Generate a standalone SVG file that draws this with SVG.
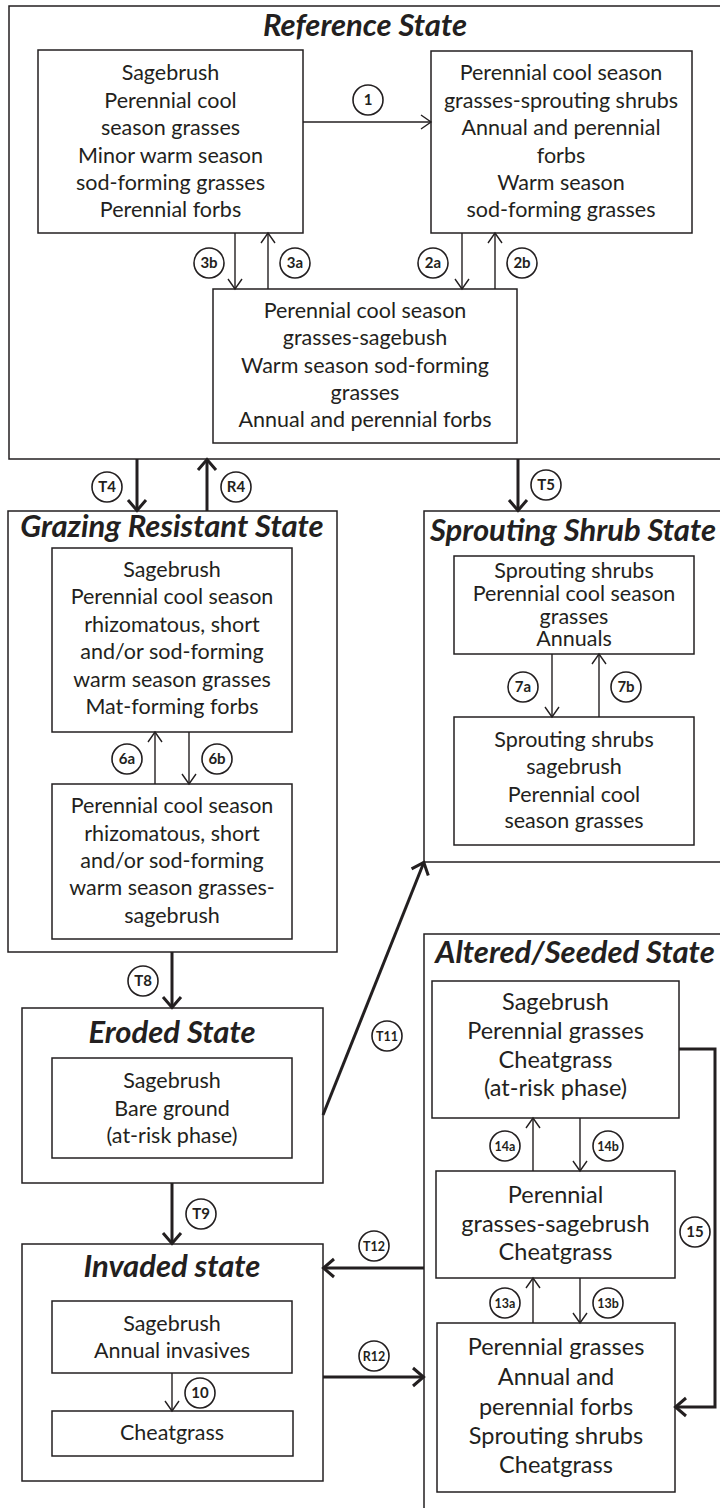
<svg xmlns="http://www.w3.org/2000/svg" width="720" height="1508" viewBox="0 0 720 1508">
<defs>
<style>
.bx{fill:none;stroke:#231f20;stroke-width:1.5}
.st{fill:#fff;stroke:#231f20;stroke-width:1.5}
.t{font-family:Lato,"Liberation Sans",sans-serif;font-size:21.5px;fill:#231f20;text-anchor:middle}
.ta{font-size:23.5px}
.ttl{font-family:Lato,"Liberation Sans",sans-serif;font-size:31px;font-weight:bold;font-style:italic;fill:#231f20;text-anchor:middle}
.thin{fill:none;stroke:#231f20;stroke-width:1.4;marker-end:url(#ah)}
.thick{fill:none;stroke:#231f20;stroke-width:3;marker-end:url(#ahb)}
.cc{fill:#fff;stroke:#231f20;stroke-width:1.6}
.cl{font-family:Lato,"Liberation Sans",sans-serif;font-size:15px;font-weight:bold;fill:#231f20;text-anchor:middle}
.cs{font-size:12.5px}
</style>
<marker id="ah" markerUnits="userSpaceOnUse" viewBox="-12 -9 14 18" refX="0" refY="0" markerWidth="14" markerHeight="18" orient="auto">
<path d="M-10,-7 L0,0 L-10,7" fill="none" stroke="#231f20" stroke-width="1.4"/>
</marker>
<marker id="ahb" markerUnits="userSpaceOnUse" viewBox="-14 -12 17 24" refX="0" refY="0" markerWidth="17" markerHeight="24" orient="auto">
<path d="M-11,-9 L-0.5,0 L-11,9" fill="none" stroke="#231f20" stroke-width="3"/>
</marker>
</defs>
<rect width="720" height="1508" fill="#fff"/>

<g id="reference-state">
<rect class="st" x="9" y="6" width="730" height="453"/>
<text class="ttl" x="365" y="36">Reference State</text>
</g>
<g id="ref-phase-1">
<rect class="bx" x="38" y="50" width="265" height="183"/>
<text class="t" x="170.5" y="80">Sagebrush</text>
<text class="t" x="170.5" y="108">Perennial cool</text>
<text class="t" x="170.5" y="135">season grasses</text>
<text class="t" x="170.5" y="163">Minor warm season</text>
<text class="t" x="170.5" y="190">sod-forming grasses</text>
<text class="t" x="170.5" y="217">Perennial forbs</text>
</g>
<g id="ref-phase-2">
<rect class="bx" x="431" y="51" width="261" height="182"/>
<text class="t" x="561" y="80">Perennial cool season</text>
<text class="t" x="561" y="108">grasses-sprouting shrubs</text>
<text class="t" x="561" y="135">Annual and perennial</text>
<text class="t" x="561" y="163">forbs</text>
<text class="t" x="561" y="190">Warm season</text>
<text class="t" x="561" y="217">sod-forming grasses</text>
</g>
<g id="ref-phase-3">
<rect class="bx" x="213" y="289" width="304" height="154"/>
<text class="t" x="365" y="318">Perennial cool season</text>
<text class="t" x="365" y="345">grasses-sagebush</text>
<text class="t" x="365" y="373">Warm season sod-forming</text>
<text class="t" x="365" y="400">grasses</text>
<text class="t" x="365" y="427">Annual and perennial forbs</text>
</g>

<g id="grazing-resistant-state">
<rect class="st" x="8" y="511" width="329" height="441"/>
<text class="ttl" x="172" y="537">Grazing Resistant State</text>
</g>
<g id="grazing-phase-1">
<rect class="bx" x="52" y="548" width="240" height="184"/>
<text class="t" x="172" y="577">Sagebrush</text>
<text class="t" x="172" y="604">Perennial cool season</text>
<text class="t" x="172" y="632">rhizomatous, short</text>
<text class="t" x="172" y="659">and/or sod-forming</text>
<text class="t" x="172" y="687">warm season grasses</text>
<text class="t" x="172" y="714">Mat-forming forbs</text>
</g>
<g id="grazing-phase-2">
<rect class="bx" x="52" y="784" width="240" height="155"/>
<text class="t" x="172" y="813">Perennial cool season</text>
<text class="t" x="172" y="841">rhizomatous, short</text>
<text class="t" x="172" y="868">and/or sod-forming</text>
<text class="t" x="172" y="895">warm season grasses-</text>
<text class="t" x="172" y="923">sagebrush</text>
</g>

<g id="sprouting-shrub-state">
<rect class="st" x="424" y="511" width="310" height="351"/>
<text class="ttl" x="573" y="541">Sprouting Shrub State</text>
</g>
<g id="sprouting-phase-1">
<rect class="bx" x="454" y="556" width="240" height="98"/>
<text class="t" x="574" y="578">Sprouting shrubs</text>
<text class="t" x="574" y="601">Perennial cool season</text>
<text class="t" x="574" y="624">grasses</text>
<text class="t" x="574" y="646">Annuals</text>
</g>
<g id="sprouting-phase-2">
<rect class="bx" x="454" y="717" width="240" height="128"/>
<text class="t" x="574" y="747">Sprouting shrubs</text>
<text class="t" x="574" y="774">sagebrush</text>
<text class="t" x="574" y="802">Perennial cool</text>
<text class="t" x="574" y="828">season grasses</text>
</g>

<g id="eroded-state">
<rect class="st" x="22" y="1008" width="301" height="175"/>
<text class="ttl" x="172" y="1043">Eroded State</text>
</g>
<g id="eroded-phase">
<rect class="bx" x="52" y="1058" width="240" height="100"/>
<text class="t" x="172" y="1088">Sagebrush</text>
<text class="t" x="172" y="1116">Bare ground</text>
<text class="t" x="172" y="1143">(at-risk phase)</text>
</g>

<g id="invaded-state">
<rect class="st" x="22" y="1244" width="301" height="237"/>
<text class="ttl" x="172" y="1277">Invaded state</text>
</g>
<g id="invaded-phase-1">
<rect class="bx" x="52" y="1301" width="240" height="72"/>
<text class="t" x="172" y="1331">Sagebrush</text>
<text class="t" x="172" y="1358">Annual invasives</text>
</g>
<g id="invaded-phase-2">
<rect class="bx" x="52" y="1411" width="241" height="45"/>
<text class="t" x="172" y="1440">Cheatgrass</text>
</g>

<g id="altered-seeded-state">
<rect class="st" x="424" y="934" width="310" height="590"/>
<text class="ttl" x="575" y="963">Altered/Seeded State</text>
</g>
<g id="altered-phase-1">
<rect class="bx" x="432" y="981" width="247" height="137"/>
<text class="t ta" x="555.5" y="1010">Sagebrush</text>
<text class="t ta" x="555.5" y="1039">Perennial grasses</text>
<text class="t ta" x="555.5" y="1068">Cheatgrass</text>
<text class="t ta" x="555.5" y="1096">(at-risk phase)</text>
</g>
<g id="altered-phase-2">
<rect class="bx" x="436" y="1171" width="239" height="107"/>
<text class="t ta" x="555.5" y="1203">Perennial</text>
<text class="t ta" x="555.5" y="1232">grasses-sagebrush</text>
<text class="t ta" x="555.5" y="1260">Cheatgrass</text>
</g>
<g id="altered-phase-3">
<rect class="bx" x="437" y="1323" width="238" height="169"/>
<text class="t ta" x="556" y="1355">Perennial grasses</text>
<text class="t ta" x="556" y="1385">Annual and</text>
<text class="t ta" x="556" y="1415">perennial forbs</text>
<text class="t ta" x="556" y="1444">Sprouting shrubs</text>
<text class="t ta" x="556" y="1473">Cheatgrass</text>
</g>

<g id="connectors">
<path class="thin" d="M303,122 H431"/>
<path class="thin" d="M235,233 V289"/>
<path class="thin" d="M268,289 V233"/>
<path class="thin" d="M462,233 V289"/>
<path class="thin" d="M495,289 V233"/>
<path class="thin" d="M155,784 V732"/>
<path class="thin" d="M189,732 V784"/>
<path class="thin" d="M552,654 V717"/>
<path class="thin" d="M599,717 V654"/>
<path class="thin" d="M172,1373 V1411"/>
<path class="thin" d="M533,1171 V1118"/>
<path class="thin" d="M580,1118 V1171"/>
<path class="thin" d="M533,1323 V1278"/>
<path class="thin" d="M580,1278 V1323"/>
<path class="thick" d="M137,459 V511"/>
<path class="thick" d="M207,511 V459"/>
<path class="thick" d="M518,459 V511"/>
<path class="thick" d="M172,952 V1008"/>
<path class="thick" d="M172,1183 V1244"/>
<path class="thick" d="M323,1115 L424,862"/>
<path class="thick" d="M424,1268 H323"/>
<path class="thick" d="M323,1377 H424"/>
<path class="thick" d="M679,1049 H715 V1407 H675"/>
<g id="labels">
<circle class="cc" cx="368" cy="100" r="15"/><text class="cl" x="368" y="105">1</text>
<circle class="cc" cx="209" cy="263" r="15"/><text class="cl" x="209" y="268">3b</text>
<circle class="cc" cx="295" cy="263" r="15"/><text class="cl" x="295" y="268">3a</text>
<circle class="cc" cx="433" cy="263" r="15"/><text class="cl" x="433" y="268">2a</text>
<circle class="cc" cx="522" cy="263" r="15"/><text class="cl" x="522" y="268">2b</text>
<circle class="cc" cx="107" cy="487" r="15"/><text class="cl" x="107" y="492">T4</text>
<circle class="cc" cx="236" cy="487" r="15"/><text class="cl" x="236" y="492">R4</text>
<circle class="cc" cx="546" cy="485" r="15"/><text class="cl" x="546" y="490">T5</text>
<circle class="cc" cx="127" cy="759" r="15"/><text class="cl" x="127" y="764">6a</text>
<circle class="cc" cx="217" cy="759" r="15"/><text class="cl" x="217" y="764">6b</text>
<circle class="cc" cx="523" cy="687" r="15"/><text class="cl" x="523" y="692">7a</text>
<circle class="cc" cx="626" cy="687" r="15"/><text class="cl" x="626" y="692">7b</text>
<circle class="cc" cx="143" cy="981" r="15"/><text class="cl" x="143" y="986">T8</text>
<circle class="cc" cx="387" cy="1036" r="15"/><text class="cl cs" x="387" y="1040.5">T11</text>
<circle class="cc" cx="201" cy="1214" r="15"/><text class="cl" x="201" y="1219">T9</text>
<circle class="cc" cx="374" cy="1246" r="15"/><text class="cl cs" x="374" y="1250.5">T12</text>
<circle class="cc" cx="374" cy="1356" r="15"/><text class="cl cs" x="374" y="1360.5">R12</text>
<circle class="cc" cx="200" cy="1393" r="15"/><text class="cl" x="200" y="1398">10</text>
<circle class="cc" cx="505" cy="1146" r="15"/><text class="cl cs" x="505" y="1150.5">14a</text>
<circle class="cc" cx="608" cy="1146" r="15"/><text class="cl cs" x="608" y="1150.5">14b</text>
<circle class="cc" cx="505" cy="1303" r="15"/><text class="cl cs" x="505" y="1307.5">13a</text>
<circle class="cc" cx="608" cy="1303" r="15"/><text class="cl cs" x="608" y="1307.5">13b</text>
<circle class="cc" cx="695" cy="1232" r="15"/><text class="cl" x="695" y="1237">15</text>
</g>
</g>
</svg>
